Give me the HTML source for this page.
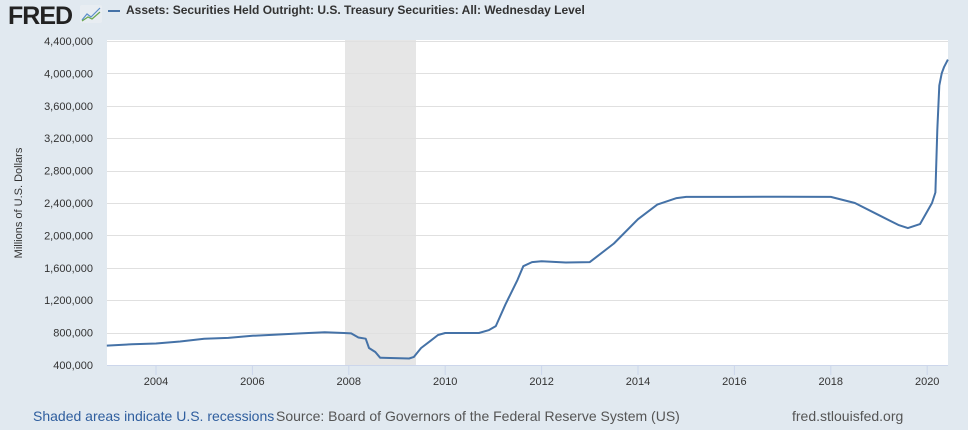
<!DOCTYPE html>
<html><head><meta charset="utf-8"><style>
body{margin:0;width:968px;height:430px;background:#e1e9f0;font-family:"Liberation Sans",Arial,sans-serif;overflow:hidden;position:relative}
.t{position:absolute;white-space:nowrap}
</style></head><body>
<div class="t" style="left:8px;top:2px;font-size:25px;font-weight:bold;color:#222;letter-spacing:-1px">FRED</div>
<svg class="t" style="left:80px;top:5px" width="22" height="18"><rect x="0" y="0" width="22" height="18" rx="2" fill="#e8edf2"/><polyline points="2,15 7,9 11,12 20,3" fill="none" stroke="#5b8ec9" stroke-width="1.2"/><polyline points="2,16 8,12 12,14 20,7" fill="none" stroke="#6aa84f" stroke-width="1.2"/></svg>
<div class="t" style="left:108px;top:10px;width:12px;height:2px;background:#4572a7"></div>
<div class="t" style="left:126px;top:3px;font-size:12px;font-weight:bold;color:#333">Assets: Securities Held Outright: U.S. Treasury Securities: All: Wednesday Level</div>
<svg class="t" style="left:0;top:0" width="968" height="430" id="s">
<rect x="107" y="40" width="841" height="325" fill="#fff"/>
<rect x="345" y="40" width="71" height="325" fill="#e6e6e6"/>
<g id="g" stroke="#e0e0e0" stroke-width="1"></g>
<line x1="107" y1="365.5" x2="948" y2="365.5" stroke="#ccd6eb"/>
<g id="lab" font-size="11" fill="#333"></g>
<polyline id="p" fill="none" stroke="#4572a7" stroke-width="2" stroke-linejoin="round"/>
<text transform="translate(22,203) rotate(-90)" text-anchor="middle" font-size="11" fill="#333">Millions of U.S. Dollars</text>
</svg>
<div class="t" style="left:33px;top:408px;font-size:14px;color:#2f5e9e">Shaded areas indicate U.S. recessions</div>
<div class="t" style="left:276px;top:408px;font-size:14px;color:#555">Source: Board of Governors of the Federal Reserve System (US)</div>
<div class="t" style="left:792px;top:408px;font-size:14px;color:#555">fred.stlouisfed.org</div>
<script>
var ns="http://www.w3.org/2000/svg",g=document.getElementById('g'),lab=document.getElementById('lab');
function Y(v){return 365-(v-400)*0.081}
function X(y){return 156+(y-2004)*48.2}
for(var i=1;i<=10;i++){var v=400+i*400,y=Math.round(Y(v))+0.5;var l=document.createElementNS(ns,'line');l.setAttribute('x1',107);l.setAttribute('x2',948);l.setAttribute('y1',y);l.setAttribute('y2',y);g.appendChild(l);}
for(var i=0;i<=10;i++){var v=400+i*400;var t=document.createElementNS(ns,'text');t.setAttribute('x',93);t.setAttribute('y',Y(v)+4);t.setAttribute('text-anchor','end');t.textContent=(v*1000).toLocaleString('en-US');lab.appendChild(t);}
for(var yr=2004;yr<=2020;yr+=2){var x=X(yr);var l=document.createElementNS(ns,'line');l.setAttribute('x1',x);l.setAttribute('x2',x);l.setAttribute('y1',365);l.setAttribute('y2',375);l.setAttribute('stroke','#ccd6eb');lab.appendChild(l);var t=document.createElementNS(ns,'text');t.setAttribute('x',x);t.setAttribute('y',385);t.setAttribute('text-anchor','middle');t.textContent=yr;lab.appendChild(t);}
var d=[[2002.98,640],[2003.5,655],[2004,665],[2004.5,690],[2005,725],[2005.5,735],[2006,760],[2006.5,775],[2007,790],[2007.5,805],[2007.9,795],[2008.05,790],[2008.2,740],[2008.35,725],[2008.42,610],[2008.55,560],[2008.65,490],[2009.25,480],[2009.35,500],[2009.5,610],[2009.7,700],[2009.85,770],[2010,795],[2010.7,795],[2010.9,830],[2011.05,880],[2011.25,1150],[2011.5,1450],[2011.62,1620],[2011.8,1670],[2012,1680],[2012.5,1665],[2013,1670],[2013.5,1900],[2014,2200],[2014.4,2380],[2014.8,2460],[2015,2475],[2016,2475],[2017,2478],[2018,2475],[2018.5,2400],[2019,2250],[2019.4,2130],[2019.6,2090],[2019.85,2140],[2020.1,2400],[2020.17,2530],[2020.21,3300],[2020.25,3850],[2020.3,4000],[2020.35,4080],[2020.43,4170]];
document.getElementById('p').setAttribute('points',d.map(function(p){return X(p[0]).toFixed(1)+','+Y(p[1]).toFixed(1)}).join(' '));
</script>
</body></html>
